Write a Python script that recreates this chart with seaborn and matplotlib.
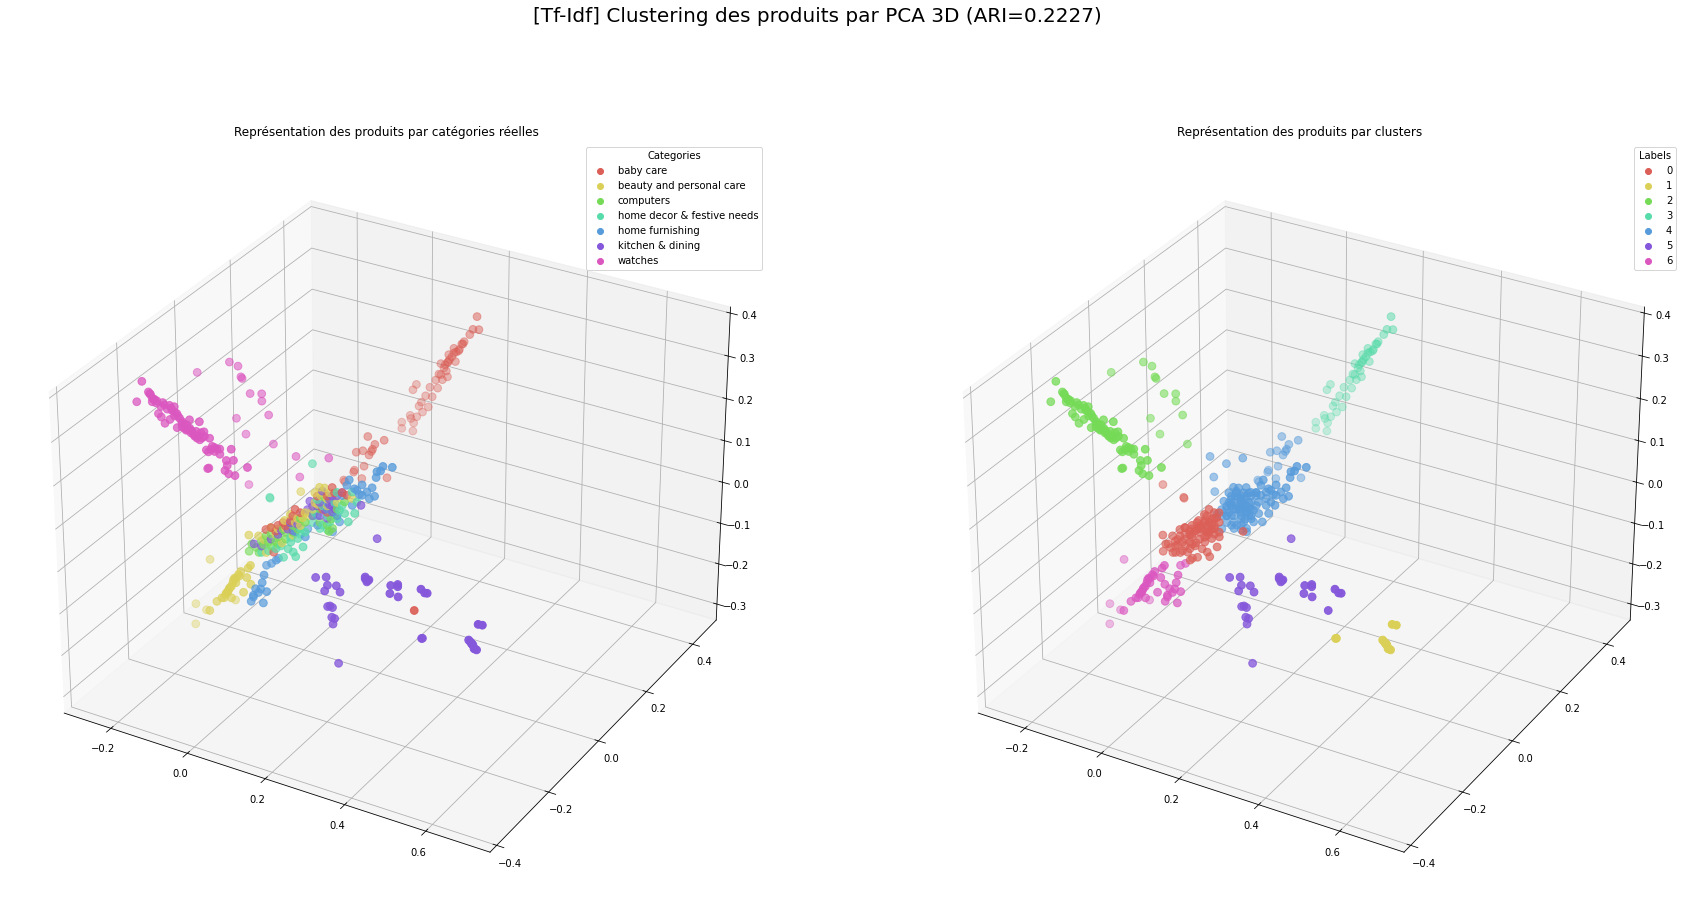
import pandas as pd
import seaborn as sns
import matplotlib
matplotlib.use('Agg')
import matplotlib.pyplot as plt
from matplotlib.colors import ListedColormap

categories = ['baby care', 'beauty and personal care', 'computers', 'home decor & festive needs',
              'home furnishing', 'kitchen & dining', 'watches']
clusters = ['0', '1', '2', '3', '4', '5', '6']

# PCA coordinates, one block per (category, cluster, y)
baby_top_x = [.265,.255,.270,.247,.233,.227,.221,.207,.213,.194,.202,.191,.174,.211,.182,.191,.169,.161,.174,.111,.102,.146,.166,.135,.152,.118,.124,.142,.127,.095,.112,.097,.073,.104,.073,.102,.230,.219,.207,.185,.196,.188,.178,.193]
baby_top_z = [.385,.353,.356,.339,.319,.312,.298,.297,.290,.279,.276,.260,.253,.267,.245,.226,.227,.211,.227,.188,.173,.190,.193,.167,.169,.138,.149,.142,.126,.110,.111,.103,.088,.094,.073,.074,.313,.294,.286,.253,.268,.239,.216,.262]
baby_low_x = [.113,.155,.131,.125,.083,.100,.122,.116,.103,.076,.078,.050,.162,.097,.053]
baby_low_z = [.162,.164,.148,.135,.117,.125,.129,.119,.089,.068,.073,.042,.077,.058,.039]

watch_arm_x = [-.210,-.195,-.179,-.174,-.170,-.164,-.158,-.170,-.143,-.148,-.126,-.114,-.120,-.108,-.114,-.101,-.155,-.148,-.139,-.126,-.076,-.108,-.095,-.083,-.080,-.073,-.064,-.051,-.040,-.026,-.051,-.035,-.020,-.008,-.014,.028,-.001,.015,.033,.011,.020,.036,.068,.017,-.033,-.030,-.023,-.089,-.070,-.058,-.048,-.095,
               -.176,-.166,-.160,-.139,-.132,-.122,-.114,-.105,-.095,-.089,-.085,-.076,-.067,-.060,-.055,-.045,-.039,-.014,-.001,-.030,-.074,-.062]
watch_arm_z = [.350,.400,.380,.376,.369,.367,.365,.360,.365,.355,.363,.363,.353,.349,.342,.340,.337,.331,.319,.331,.343,.317,.322,.330,.319,.314,.309,.345,.325,.314,.304,.285,.297,.294,.287,.303,.284,.274,.279,.250,.245,.245,.272,.263,.243,.245,.289,.320,.318,.306,.321,.330,
               .377,.366,.360,.361,.353,.358,.351,.344,.334,.329,.317,.324,.313,.321,.312,.310,.315,.296,.296,.282,.320,.310]
watch_far_x = [-.144,-.122,-.229,-.115,-.112,-.092,-.062,-.062,-.129,-.045,-.105,-.034]
watch_far_z = [.341,.337,.296,.314,.311,.281,.288,.271,.214,.243,.183,.178]
watch_mid_x = [.024,.108,.033]
watch_mid_z = [.164,.182,.118]

stray_decor_x = [.066]
stray_decor_z = [.158]
stray_decor2_x = [-.046,-.045]
stray_decor2_z = [.049,.047]
stray_beauty_x = [.035]
stray_beauty_z = [.084]
stray_watch_x = [-.100]
stray_watch_z = [.065]

core4_baby_x = [.181,.206,.168,.218,.156,.131,.143,.187,.168]
core4_baby_z = [.182,.177,.159,.174,.125,.103,.152,.171,.121]
core4_beauty_x = [.149,.137,.156,.168,.118,.131,.143,.193,.231,.162,.174,.153,.137,.168]
core4_beauty_z = [.174,.158,.163,.152,.099,.118,.133,.151,.170,.176,.168,.155,.135,.136]
core4_comp_x = [.162,.181,.168,.187,.149,.193,.178,.149,.212]
core4_comp_z = [.154,.087,.091,.119,.124,.135,.108,.093,.157]
core4_decor_x = [.193,.231,.212,.237,.221,.181,.193,.156,.168,.206,.243,.137,.156,.168,.187,.199,.174,.131,.149,.143]
core4_decor_z = [.174,.185,.130,.137,.113,.125,.113,.088,.080,.147,.165,.112,.133,.113,.149,.134,.100,.087,.078,.144]
core4_furn_x = [.331,.308,.293,.302,.291,.256,.281,.268,.287,.274,.249,.224,.218,.237,.168,.143,.143,.118,.131,.243,.256,.206,.231,.193,.168,.181,.199]
core4_furn_z = [.268,.264,.248,.252,.234,.208,.208,.195,.190,.181,.184,.211,.197,.194,.129,.107,.084,.069,.103,.192,.184,.170,.154,.120,.144,.079,.107]
core4_kitch_x = [.156,.181,.174,.124,.131,.206,.149,.168,.187,.253,.106,.143,.181,.162,.181,.149,.193,.174,.118]
core4_kitch_z = [.167,.162,.140,.135,.125,.177,.108,.107,.134,.160,.100,.129,.140,.126,.125,.139,.166,.153,.114]

core0_baby_x = [.077,.095,.139,.127,.114,.133,.083,.108,.152,.089,.064]
core0_baby_z = [.101,.111,.160,.130,.115,.143,.045,.121,.156,.096,.093]
core0_beauty_x = [.020,.045,.077,.105,.112,.127,.164,.145,.064,.095,.152,.133,.058,.089,.114,.139,.158]
core0_beauty_z = [.068,.073,.101,.073,.127,.145,.159,.140,.039,.103,.126,.098,.068,.088,.110,.130,.146]
core0_comp_x = [.020,.027,.052,.064,.077,.095,.114,.133,.152,.164,.045,.089,.108,.039,.070,.224,.058,.077,.095,.114,.133,.145]
core0_comp_z = [.030,.049,.063,.078,.086,.084,.100,.121,.142,.137,.034,.071,.106,.044,.065,.132,.056,.058,.067,.084,.105,.116]
core0_decor_x = [.052,.089,.127,.139,.158,.120,.145,.164,.152,.108,.070,.102,.127,.152,.133]
core0_decor_z = [.036,.055,.081,.050,.078,.063,.094,.114,.119,.040,.045,.065,.092,.106,.059]
core0_furn_x = [.089,.095,.139,.164]
core0_furn_z = [.028,.034,.108,.103]
core0_kitch_x = [.033,.077,.104,.133,.127,.052,.095,.120,.145]
core0_kitch_z = [.051,.074,.101,.109,.126,.051,.090,.109,.127]
core6_furn_x = [.077,.064]
core6_furn_z = [.017,.009]

beauty_arm_x = [.091,.085,.060,.047,.041,.035,.026,.022,.003,-.016,.072,.091,.041,.081,.053,.031,.050,.037,.066,.028,.032,.045,.053,.062,.016]
beauty_arm_z = [.068,.060,.038,.022,.005,-.003,-.018,-.027,-.041,-.068,0.0,.024,-.022,.037,.017,-.012,.027,.001,.047,-.014,-.009,.014,.027,.035,-.029]
beauty_far_x = [-.181,-.179,-.151,-.138,-.073]
beauty_far_z = [-.243,-.193,-.200,-.074,-.154]
furn_leg_x = [.125,.120,.116,.103,.131,.110,.097,.091,.122,.097]
furn_leg_z = [.055,.036,.020,.017,.018,.010,0.0,-.016,-.011,-.004]

kitchen_x = [.268,.294,.297,.319,.290,.328,.390,.397,.394,.390,.399,.452,.469,.450,.470,.469,.525,.540,.534,.303,.297,.309,.307,.314,.310,.323]
kitchen_z = [.100,.108,.090,.095,.075,.083,.135,.129,.125,.131,.131,.133,.140,.114,.112,.135,.145,.140,.139,.044,.041,.042,.019,.018,.004,-.084]
kitchen_far_x = [.325]
kitchen_far_z = [.128]
baby_floor_x = [.509]
baby_floor_z = [.092]
kitchen_front_x = [.662,.672,.527,.640,.647,.653,.659,.644,.650,.529,.648,.655]
kitchen_front_z = [.104,.105,.033,.062,.056,.046,.045,.059,.054,.034,.055,.046]

blocks = [
    (0, 3, .275, baby_top_x, baby_top_z),
    (0, 4, .085, baby_low_x, baby_low_z),
    (6, 2, -.285, watch_arm_x, watch_arm_z),
    (6, 2, -.053, watch_far_x, watch_far_z),
    (6, 4, -.053, watch_mid_x, watch_mid_z),
    (3, 4, -.053, stray_decor_x, stray_decor_z),
    (3, 0, -.053, stray_decor2_x, stray_decor2_z),
    (1, 4, -.053, stray_beauty_x, stray_beauty_z),
    (6, 0, -.053, stray_watch_x, stray_watch_z),
    (0, 4, -.146, core4_baby_x, core4_baby_z),
    (1, 4, -.146, core4_beauty_x, core4_beauty_z),
    (2, 4, -.146, core4_comp_x, core4_comp_z),
    (3, 4, -.146, core4_decor_x, core4_decor_z),
    (4, 4, -.146, core4_furn_x, core4_furn_z),
    (5, 4, -.146, core4_kitch_x, core4_kitch_z),
    (0, 0, -.22, core0_baby_x, core0_baby_z),
    (1, 0, -.22, core0_beauty_x, core0_beauty_z),
    (2, 0, -.22, core0_comp_x, core0_comp_z),
    (3, 0, -.22, core0_decor_x, core0_decor_z),
    (4, 0, -.22, core0_furn_x, core0_furn_z),
    (5, 0, -.22, core0_kitch_x, core0_kitch_z),
    (4, 6, -.22, core6_furn_x, core6_furn_z),
    (1, 6, -.313, beauty_arm_x, beauty_arm_z),
    (1, 6, -.146, beauty_far_x, beauty_far_z),
    (4, 6, -.313, furn_leg_x, furn_leg_z),
    (5, 5, -.332, kitchen_x, kitchen_z),
    (5, 5, -.193, kitchen_far_x, kitchen_far_z),
    (0, 5, -.332, baby_floor_x, baby_floor_z),
    (5, 1, -.332, kitchen_front_x, kitchen_front_z),
]

rows = []
for cat, clu, y, xs, zs in blocks:
    for x, z in zip(xs, zs):
        rows.append((cat, clu, x, y, z))
df = pd.DataFrame(rows, columns=['cat', 'cluster', 'x', 'y', 'z'])

cmap = ListedColormap(sns.color_palette('hls', 7))

fig = plt.figure(figsize=(1688 / 72, 910 / 72), dpi=72)
fig.suptitle('[Tf-Idf] Clustering des produits par PCA 3D (ARI=0.2227)', fontsize=20, x=817 / 1688, y=1 - 16 / 910, va='center')

ax1 = fig.add_axes([7 / 1688, 10 / 910, 758 / 1688, 758 / 910], projection='3d')
ax2 = fig.add_axes([921 / 1688, 10 / 910, 758 / 1688, 758 / 910], projection='3d')

panels = [(ax1, 'cat', categories, 'Categories', 'Représentation des produits par catégories réelles'),
          (ax2, 'cluster', clusters, 'Labels', 'Représentation des produits par clusters')]
for ax, col, labels, legend_title, title in panels:
    sc = ax.scatter(df['x'], df['y'], df['z'], c=df[col], cmap=cmap, vmin=0, vmax=6, s=60)
    ax.set_xlim(-0.324, 0.756)
    ax.set_ylim(-0.425, 0.505)
    ax.set_zlim(-0.34, 0.414)
    ax.set_xticks([-0.2, 0.0, 0.2, 0.4, 0.6])
    ax.set_yticks([-0.4, -0.2, 0.0, 0.2, 0.4])
    ax.set_title(title, fontsize=12)
    ax.legend(handles=sc.legend_elements()[0], labels=labels, title=legend_title, loc='upper right', bbox_to_anchor=(1.003, 1.0))

plt.savefig('out.png', dpi=72)
